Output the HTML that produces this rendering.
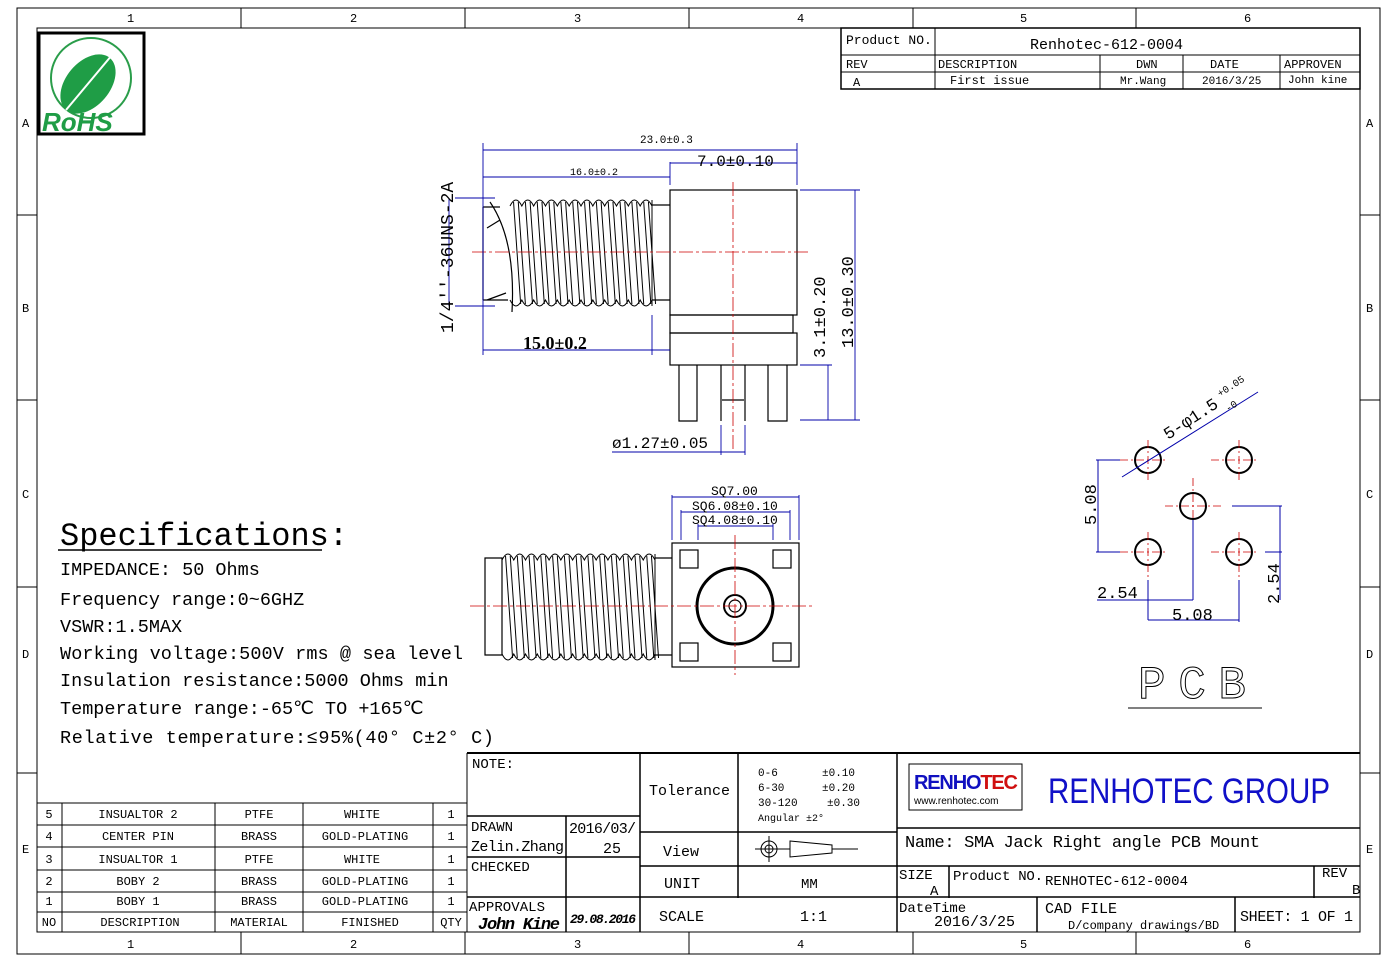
<!DOCTYPE html>
<html><head><meta charset="utf-8"><style>
body{margin:0;background:#fff}
svg{display:block}
text{font-family:"Liberation Mono","DejaVu Sans Mono",monospace;fill:#000}
.s{font-family:"Liberation Serif",serif}
.b{font-family:"Liberation Sans",sans-serif}
</style></head><body>
<svg id="d" width="1397" height="962" viewBox="0 0 1397 962" xmlns="http://www.w3.org/2000/svg">
<g fill="none" stroke="#000" stroke-width="1">
<rect x="17" y="8" width="1363" height="946"/>
<rect x="37" y="28" width="1323" height="904"/>
<path d="M241 8V28M465 8V28M689 8V28M913 8V28M1136 8V28M241 932V954M465 932V954M689 932V954M913 932V954M1136 932V954M17 215H37M17 400H37M17 587H37M17 773H37M1360 215H1380M1360 400H1380M1360 587H1380M1360 773H1380"/>
</g>
<g font-size="12" class="s">
<text x="127" y="22">1</text><text x="350" y="22">2</text><text x="574" y="22">3</text><text x="797" y="22">4</text><text x="1020" y="22">5</text><text x="1244" y="22">6</text>
<text x="127" y="948">1</text><text x="350" y="948">2</text><text x="574" y="948">3</text><text x="797" y="948">4</text><text x="1020" y="948">5</text><text x="1244" y="948">6</text>
<text x="22" y="127">A</text><text x="22" y="312">B</text><text x="22" y="498">C</text><text x="22" y="658">D</text><text x="22" y="853">E</text>
<text x="1366" y="127">A</text><text x="1366" y="312">B</text><text x="1366" y="498">C</text><text x="1366" y="658">D</text><text x="1366" y="853">E</text>
</g>
<rect x="39" y="33" width="105" height="101" fill="#fff" stroke="#000" stroke-width="3"/>
<circle cx="91" cy="78" r="40" fill="none" stroke="#2a9d4a" stroke-width="2"/>
<ellipse cx="88" cy="84" rx="22" ry="34" transform="rotate(40 88 84)" fill="#1f9d46"/>
<path d="M66 110L112 55" stroke="#fff" stroke-width="2"/>
<text x="42" y="131" font-size="26" font-weight="bold" font-style="italic" class="b" style="fill:#1f9d46">RoHS</text>
<g fill="none" stroke="#000">
<rect x="841" y="28" width="519" height="61" stroke-width="1.5"/>
<path d="M841 55H1360M841 72H1360M935 28V89M1100 55V89M1183 55V89M1280 55V89"/>
</g>
<g class="s" font-size="13">
<text x="846" y="44">Product NO.</text><text x="1030" y="49" font-size="15">Renhotec-612-0004</text>
<text x="846" y="68" font-size="12">REV</text><text x="938" y="68" font-size="12">DESCRIPTION</text><text x="1136" y="68" font-size="12">DWN</text><text x="1210" y="68" font-size="12">DATE</text><text x="1284" y="68" font-size="12">APPROVEN</text>
<text x="853" y="86" font-size="12">A</text><text x="950" y="84" font-size="12">First issue</text><text x="1120" y="84" font-size="11">Mr.Wang</text><text x="1202" y="84" font-size="11">2016/3/25</text><text x="1288" y="83" font-size="11">John kine</text>
</g>
<g fill="none" stroke="#000" stroke-width="1.2">
<rect x="670" y="190" width="127" height="125"/>
<rect x="670" y="315" width="123" height="18"/>
<rect x="670" y="333" width="127" height="32"/>
<path d="M679 365V421H697V365M768 365V421H787V365M721 365V421M745 365V421M722 400H744"/>
<path d="M652 205H670M652 300H670"/>
<path d="M483 207V300M483 207H500M483 300H508M487 228L500 220M487 300L506 293M490 202Q516 240 512 312"/>
</g>
<g id="th1"></g>
<g stroke="#c00" stroke-width="0.8" stroke-dasharray="14 3 3 3" fill="none">
<path d="M472 252H810M733 182V450"/>
</g>
<g stroke="#00a" stroke-width="0.9" fill="none">
<path d="M483 143V355M797 143V185M670 162V185M483 150H797M483 177H670M670 163H797M455 198H495M455 306H495M449 198V306M483 350H670M652 315V355M828 365V420M800 365H832M855 190V420M800 190H860M800 420H860M721 425V455M745 425V455M612 452H745"/>
</g>
<g class="b" font-size="11">
<text x="640" y="143">23.0±0.3</text><text x="570" y="175" font-size="10">16.0±0.2</text>
<text x="697" y="166" font-size="16">7.0±0.10</text>
<text x="523" y="349" font-size="18" font-weight="bold" class="s">15.0±0.2</text>
<text x="612" y="448" font-size="16">ø1.27±0.05</text>
<text transform="translate(453 333) rotate(-90)" font-size="18">1/4''-36UNS-2A</text>
<text transform="translate(825 358) rotate(-90)" font-size="17">3.1±0.20</text>
<text transform="translate(853 348) rotate(-90)" font-size="17">13.0±0.30</text>
</g>
<g fill="none" stroke="#000" stroke-width="1.2">
<rect x="672" y="543" width="127" height="124"/>
<rect x="680" y="550" width="18" height="18"/><rect x="773" y="550" width="18" height="18"/>
<rect x="680" y="643" width="18" height="18"/><rect x="773" y="643" width="18" height="18"/>
<circle cx="735" cy="606" r="38" stroke-width="3"/>
<circle cx="735" cy="606" r="11" stroke-width="2"/><circle cx="735" cy="606" r="6"/>
<path d="M485 558H502V655H485ZM655 558H672M655 655H672"/>
</g>
<g id="th2"></g>
<g stroke="#c00" stroke-width="0.8" stroke-dasharray="14 3 3 3" fill="none"><path d="M470 606H815M735 535V675"/></g>
<g stroke="#00a" stroke-width="0.9" fill="none"><path d="M672 495V540M799 495V540M681 510V540M790 510V540M698 524V540M773 524V540M672 497H799M681 512H790M698 526H773"/></g>
<g class="b" font-size="13"><text x="711" y="495">SQ7.00</text><text x="692" y="510">SQ6.08±0.10</text><text x="692" y="524">SQ4.08±0.10</text></g>
<g fill="none" stroke="#000" stroke-width="2">
<circle cx="1148" cy="460" r="13"/><circle cx="1239" cy="460" r="13"/><circle cx="1193" cy="506" r="13"/><circle cx="1148" cy="552" r="13"/><circle cx="1239" cy="552" r="13"/>
</g>
<g stroke="#c00" stroke-width="0.8" stroke-dasharray="8 3 2 3"><path d="M1120 460H1168M1148 440V480M1211 460H1259M1239 440V480M1165 506H1221M1193 478V530M1120 552H1168M1148 532V580M1211 552H1259M1239 532V580"/></g>
<g stroke="#00a" fill="none" stroke-width="1"><path d="M1096 460H1120M1096 552H1120M1098 460V552M1148 580V620M1239 580V622M1193 520V600M1097 600H1193M1148 620H1239M1232 506H1282M1265 552H1282M1280 506V600M1122 477L1258 392"/></g>
<g class="b" font-size="17"><text transform="translate(1096 525) rotate(-90)">5.08</text><text x="1097" y="598">2.54</text><text x="1172" y="620">5.08</text><text transform="translate(1279 604) rotate(-90)">2.54</text>
<text transform="translate(1168 440) rotate(-33)">5-φ1.5</text><text transform="translate(1220 397) rotate(-33)" font-size="10">+0.05</text><text transform="translate(1228 412) rotate(-33)" font-size="10">-0</text>
<text x="1138" y="698" font-size="46" textLength="108" style="fill:none;stroke:#000;stroke-width:1">PCB</text></g>
<path d="M1128 708H1262" stroke="#000"/>
<g class="s" font-size="18.5">
<text x="60" y="545" font-size="32">Specifications:</text>
<path d="M58 550H322" stroke="#000" stroke-width="1.5"/>
<text x="60" y="575">IMPEDANCE: 50 Ohms</text>
<text x="60" y="605">Frequency range:0~6GHZ</text>
<text x="60" y="632">VSWR:1.5MAX</text>
<text x="60" y="659" textLength="403">Working voltage:500V rms @ sea level</text>
<text x="60" y="686">Insulation resistance:5000 Ohms min</text>
<text x="60" y="714">Temperature range:-65℃ TO +165℃</text>
<text x="60" y="743" textLength="434">Relative temperature:≤95%(40° C±2° C)</text>
</g>
<g fill="none" stroke="#000">
<path d="M37 803H467M37 825H467M37 847H467M37 870H467M37 892H467M37 912H467M62 803V932M215 803V932M303 803V932M433 803V932M467 753V932"/>
</g>
<g class="b" font-size="12" text-anchor="middle">
<text x="49" y="818">5</text><text x="138" y="818">INSUALTOR 2</text><text x="259" y="818">PTFE</text><text x="362" y="818">WHITE</text><text x="451" y="818">1</text>
<text x="49" y="840">4</text><text x="138" y="840">CENTER PIN</text><text x="259" y="840">BRASS</text><text x="365" y="840">GOLD-PLATING</text><text x="451" y="840">1</text>
<text x="49" y="863">3</text><text x="138" y="863">INSUALTOR 1</text><text x="259" y="863">PTFE</text><text x="362" y="863">WHITE</text><text x="451" y="863">1</text>
<text x="49" y="885">2</text><text x="138" y="885">BOBY 2</text><text x="259" y="885">BRASS</text><text x="365" y="885">GOLD-PLATING</text><text x="451" y="885">1</text>
<text x="49" y="905">1</text><text x="138" y="905">BOBY 1</text><text x="259" y="905">BRASS</text><text x="365" y="905">GOLD-PLATING</text><text x="451" y="905">1</text>
<text x="49" y="926">NO</text><text x="140" y="926">DESCRIPTION</text><text x="259" y="926">MATERIAL</text><text x="370" y="926">FINISHED</text><text x="451" y="926">QTY</text>
</g>
<g fill="none" stroke="#000">
<path d="M467 753H1360" stroke-width="2"/>
<path d="M640 753V932M738 753V898M897 753V932M467 816H640M467 857H640M467 897H1360M566 816V932M640 832H897M640 866H1360M897 828H1360M949 866V898M1314 866V898M1037 897V932M1235 897V932" stroke-width="1.5"/>
</g>
<g class="s" font-size="14">
<text x="472" y="768">NOTE:</text>
<text x="649" y="795" font-size="15">Tolerance</text>
<text x="758" y="776" font-size="11">0-6</text><text x="822" y="776" font-size="11">±0.10</text>
<text x="758" y="791" font-size="11">6-30</text><text x="822" y="791" font-size="11">±0.20</text>
<text x="758" y="806" font-size="11">30-120</text><text x="827" y="806" font-size="11">±0.30</text>
<text x="758" y="821" font-size="10">Angular  ±2°</text>
<text x="471" y="831">DRAWN</text><text x="569" y="833" font-size="15" textLength="67">2016/03/</text>
<text x="471" y="851" font-size="15" textLength="93">Zelin.Zhang</text><text x="603" y="853" font-size="15">25</text>
<text x="663" y="856" font-size="15">View</text>
<text x="471" y="871">CHECKED</text>
<text x="664" y="888" font-size="15">UNIT</text><text x="801" y="888">MM</text>
<text x="469" y="911" textLength="76">APPROVALS</text>
<text x="478" y="929" font-size="17" font-style="italic" font-weight="bold" textLength="82">John Kine</text>
<text x="570" y="923" font-size="13" font-style="italic" font-weight="bold" textLength="66">29.08.2016</text>
<text x="659" y="921" font-size="15">SCALE</text><text x="800" y="921" font-size="15">1:1</text>
<text x="905" y="847" font-size="17" textLength="355">Name: SMA Jack Right angle PCB Mount</text>
<text x="899" y="879">SIZE</text><text x="930" y="895">A</text>
<text x="953" y="880" font-size="14" textLength="90">Product NO.</text><text x="1045" y="885" font-size="14" textLength="143">RENHOTEC-612-0004</text>
<text x="1322" y="877">REV</text><text x="1352" y="894">B</text>
<text x="899" y="912">DateTime</text><text x="934" y="926" font-size="15">2016/3/25</text>
<text x="1045" y="913" font-size="15">CAD FILE</text><text x="1068" y="929" font-size="12">D/company drawings/BD</text>
<text x="1240" y="921" font-size="15" textLength="113">SHEET: 1 OF 1</text>
</g>
<g fill="none" stroke="#000">
<circle cx="769" cy="849" r="8"/><circle cx="769" cy="849" r="4"/><path d="M755 849H790M769 836V862M790 841L832 845V853L790 857ZM832 849H858"/>
</g>
<rect x="909" y="764" width="113" height="46" fill="#fff" stroke="#000"/>
<text x="914" y="789" font-size="20" font-weight="bold" class="b" textLength="104" style="fill:#1010c0">RENHO<tspan style="fill:#d01010">TEC</tspan></text>
<text x="914" y="804" font-size="10" class="b">www.renhotec.com</text>
<text x="1048" y="803" font-size="35" class="b" textLength="282" lengthAdjust="spacingAndGlyphs" style="fill:#1010c8">RENHOTEC  GROUP</text>
</svg>
<script>
function thread(id,x0,x1,yt,yb,n){
 var g=document.getElementById(id),s='',w=(x1-x0)/n;
 var top='M'+x0+' '+(yt+6),bot='M'+x0+' '+(yb-6);
 for(var i=0;i<n;i++){var a=x0+i*w;
  top+=' Q'+(a+w/2)+' '+(yt-6)+' '+(a+w)+' '+(yt+6);
  bot+=' Q'+(a+w/2)+' '+(yb+6)+' '+(a+w)+' '+(yb-6);
  s+='<path d="M'+(a+w*0.3)+' '+(yt+2)+'L'+(a+w*0.9)+' '+(yb-2)+'M'+(a+w*0.7)+' '+(yt+2)+'L'+(a+w*1.3)+' '+(yb-2)+'"/>';}
 g.innerHTML='<g fill="none" stroke="#000" stroke-width="1"><path d="'+top+'"/><path d="'+bot+'"/>'+s+'<path d="M'+x1+' '+yt+'V'+yb+'"/></g>';
}
thread('th1',510,652,200,306,12);
thread('th2',502,655,554,660,13);
</script>
</body></html>
